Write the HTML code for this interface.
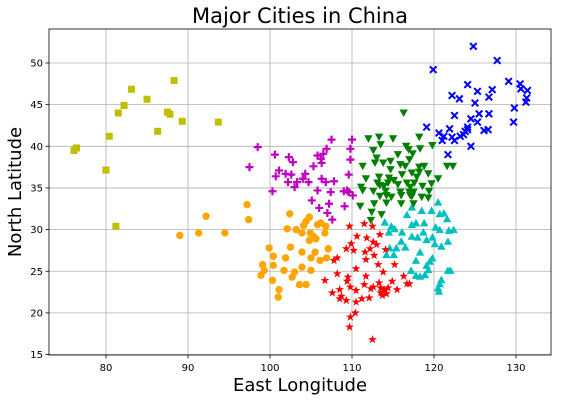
<!DOCTYPE html>
<html><head><meta charset="utf-8"><style>
body{margin:0;background:#fff;}
svg{display:block;font-family:"DejaVu Sans","Liberation Sans",sans-serif;}
</style></head><body>
<svg id="chart" width="561" height="401" viewBox="0 0 561 401" xmlns="http://www.w3.org/2000/svg">
<rect width="561" height="401" fill="#fff"/>
<g id="grid"></g>
<g id="marks"></g>
<g id="axes"></g>
<text x="300" y="23" text-anchor="middle" font-size="21">Major Cities in China</text>
<text x="300" y="391" text-anchor="middle" font-size="18">East Longitude</text>
<text transform="translate(21,192) rotate(-90)" text-anchor="middle" font-size="18">North Latitude</text>
</svg>
<script>
const xTicks=[80,90,100,110,120,130];
const yTicks=[15,20,25,30,35,40,45,50];
const yellowLon=[88.3,83.1,85.0,82.2,81.5,87.5,87.8,89.3,93.7,86.3,80.4,76.4,76.1,80.0,81.2];
const yellowLat=[47.9,46.85,45.65,44.9,44.0,44.1,43.85,43.0,42.9,41.8,41.2,39.8,39.5,37.15,30.4];
const magentaLon=[98.5,97.5,100.6,102.3,102.8,101.1,100.7,101.9,102.6,102.2,103.3,103.0,100.3,107.5,110.0,106.9,109.8,105.8,106.5,106.2,106.3,109.8,105.3,104.3,104.0,109.6,106.3,104.7,106.8,107.8,105.8,107.4,109.0,109.4,109.6,110.1,105.1,107.2,106.0,109.1,107.0,107.6];
const magentaLat=[39.9,37.5,39.0,38.7,38.1,37.1,36.4,36.7,36.6,35.7,35.7,35.1,34.6,40.8,40.8,39.7,39.7,38.9,39.1,38.5,38.0,38.4,37.6,36.7,36.1,36.6,36.1,35.7,35.7,35.8,34.7,34.5,34.6,34.7,34.5,34.1,33.5,33.1,32.6,32.8,32.0,31.2];
const greenLon=[116.3,112.0,113.3,115.0,118.2,113.5,116.6,119.8,112.6,118.3,115.6,116.9,117.4,113.0,114.7,117.0,112.8,113.8,111.3,115.9,116.5,118.2,118.8,121.6,122.3,114.7,117.3,118.2,119.3,111.7,113.3,114.5,116.1,117.9,120.5,113.1,114.4,115.1,115.6,116.7,117.6,119.7,111.1,113.4,113.9,117.1,118.6,111.3,112.6,114.1,115.9,117.5,119.4,113.4,114.8,116.0,117.1,118.5,117.0,119.3,111.0,112.7,114.2,116.0,117.5,112.4,113.6,112.3,114.2,117.3];
const greenLat=[44.0,40.9,41.1,40.9,41.1,40.2,40.0,40.1,39.5,39.7,39.0,39.6,39.1,38.6,38.2,38.4,38.0,38.0,37.6,37.8,37.6,37.5,37.6,37.6,37.6,37.2,36.8,36.9,36.7,36.1,36.3,36.2,36.6,36.3,36.1,35.6,35.6,35.9,35.4,35.6,35.6,35.5,35.1,35.3,35.2,35.1,35.2,34.7,34.6,34.6,34.5,34.5,34.6,34.0,33.9,34.1,34.1,33.9,34.5,33.8,32.8,33.1,33.2,33.1,33.1,32.1,31.8,31.1,34.1,34.0];
const blueLon=[124.8,127.7,119.9,124.1,129.1,130.5,130.6,131.4,125.3,127.1,122.2,123.1,126.7,125.0,131.3,131.2,129.8,122.5,125.5,126.7,124.5,125.3,129.7,119.1,121.9,124.1,120.6,121.2,121.0,122.2,122.5,123.2,123.6,123.8,124.1,126.1,126.6,124.5,121.7];
const blueLat=[52.0,50.3,49.2,47.4,47.8,47.5,46.9,46.7,46.6,46.8,46.1,45.7,45.9,45.2,45.8,45.3,44.6,43.7,43.9,43.9,43.3,42.9,42.9,42.3,42.1,42.3,41.6,41.2,40.7,41.1,40.7,41.2,41.4,41.8,42.0,41.9,42.0,40.0,39.0];
const cyanLon=[120.5,117.3,116.7,118.5,119.7,120.7,121.2,121.6,117.8,118.8,117.3,114.0,114.8,115.2,114.5,116.1,118.7,120.2,120.7,121.8,122.4,117.3,118.0,119.1,119.8,116.0,120.1,120.9,121.7,116.5,114.6,115.4,114.2,115.1,118.3,117.8,119.8,119.5,119.1,119.3,117.2,117.8,118.3,118.9,121.7,122.0,120.9,120.7,120.5,120.6];
const cyanLat=[33.3,32.7,31.8,32.3,32.3,31.9,32.0,31.3,30.8,30.8,30.6,30.9,30.4,30.1,29.7,29.7,29.7,30.3,30.0,29.9,30.0,29.2,29.1,28.8,29.1,28.6,28.3,28.0,28.6,27.9,27.8,27.8,27.0,27.0,27.3,26.3,26.6,26.2,25.7,25.2,25.1,24.5,24.4,24.6,25.1,25.1,24.0,23.5,23.0,22.6];
const redLon=[109.7,111.5,112.5,110.6,111.8,113.4,112.6,109.9,113.0,114.1,109.3,110.2,112.2,111.6,112.7,108.2,107.8,111.7,113.2,115.2,110.5,113.8,108.2,106.7,109.5,109.4,111.7,116.3,114.9,113.3,116.7,117.0,111.5,109.8,112.3,112.6,113.5,113.9,114.4,115.5,108.5,110.5,113.5,114.2,113.7,107.6,108.7,108.5,109.3,111.2,112.1,110.5,110.4,109.8,109.7,112.5];
const redLat=[30.4,30.7,30.4,29.2,29.0,29.4,28.5,28.3,28.2,27.6,27.7,27.5,27.7,27.3,26.9,26.6,26.3,26.4,25.8,25.8,25.3,24.9,24.7,23.9,24.3,23.8,24.4,24.4,23.8,23.6,23.5,23.5,23.4,23.1,22.9,23.1,23.0,22.8,23.0,22.8,22.8,22.7,22.4,22.3,22.1,22.4,22.0,21.7,21.5,21.7,21.8,21.3,20.0,19.5,18.3,16.8];
const orangeLon=[94.5,97.2,97.4,102.4,104.8,104.4,104.1,102.1,103.2,103.9,104.9,105.8,106.2,106.8,106.7,105.3,104.8,105.6,99.9,102.5,100.4,103.9,105.5,107.1,101.9,105.0,106.1,106.9,99.1,100.4,103.9,99.3,98.9,101.7,103.0,102.7,105.0,100.3,103.6,104.4,101.1,101.0,89.0,91.3,92.2];
const orangeLat=[29.6,33.0,31.2,31.9,31.5,31.0,30.5,30.1,30.0,29.6,29.6,30.6,30.8,30.4,29.6,29.2,28.7,28.9,27.8,27.9,26.8,27.3,27.3,27.7,26.6,26.6,26.3,26.6,25.8,25.7,25.5,25.1,24.5,25.1,24.9,24.3,25.1,23.9,23.4,23.4,22.8,21.9,29.3,29.6,31.6];

const NS="http://www.w3.org/2000/svg";
const X0=49,X1=551,Y0=29,Y1=355;
function xs(v){return 106+(v-80)*8.2;}
function ys(v){return 63+(50-v)*8.33;}
function mk(tag,attrs,parent){const e=document.createElementNS(NS,tag);for(const k in attrs)e.setAttribute(k,attrs[k]);parent.appendChild(e);return e;}
const grid=document.getElementById('grid'),axes=document.getElementById('axes'),marks=document.getElementById('marks');
xTicks.forEach(t=>{
  const x=xs(t);
  const g=mk('line',{x1:x,x2:x,y1:Y0,y2:Y1,stroke:'#b0b0b0','stroke-width':0.8},grid);
  
  
  mk('line',{x1:x,x2:x,y1:Y1,y2:Y1+3.5,stroke:'#000','stroke-width':0.8},axes);
  const l=mk('text',{x:x,y:Y1+16,'text-anchor':'middle','font-size':10},axes);
  l.textContent=t;
  
  
});
yTicks.forEach(t=>{
  const y=ys(t);
  const g=mk('line',{x1:X0,x2:X1,y1:y,y2:y,stroke:'#b0b0b0','stroke-width':0.8},grid);
  
  
  mk('line',{x1:X0-3.5,x2:X0,y1:y,y2:y,stroke:'#000','stroke-width':0.8},axes);
  const l=mk('text',{x:X0-6,y:y+3.5,'text-anchor':'end','font-size':10},axes);
  l.textContent=t;
  
  
});
const fr=mk('rect',{x:X0,y:Y0,width:X1-X0,height:Y1-Y0,fill:'none',stroke:'#000','stroke-width':0.8},axes);



function star(cx,cy,r){let p=[];for(let i=0;i<10;i++){const a=-Math.PI/2+i*Math.PI/5;const rr=i%2?r*0.4:r;p.push((cx+rr*Math.cos(a)).toFixed(1)+','+(cy+rr*Math.sin(a)).toFixed(1));}return p.join(' ');}
function drawSeries(lons,lats,color,shape,name){
  const g=mk('g',{},marks);
  
  
  lons.forEach((lo,i)=>{
    const x=xs(lo),y=ys(lats[i]);let e;
    if(shape==='square')e=mk('rect',{x:x-3.5,y:y-3.5,width:7,height:7,fill:color},g);
    else if(shape==='circle')e=mk('circle',{cx:x,cy:y,r:3.7,fill:color},g);
    else if(shape==='tri-down')e=mk('polygon',{points:`${x-4.2},${y-3.5} ${x+4.2},${y-3.5} ${x},${y+4}`,fill:color},g);
    else if(shape==='tri-up')e=mk('polygon',{points:`${x-4.2},${y+3.5} ${x+4.2},${y+3.5} ${x},${y-4}`,fill:color},g);
    else if(shape==='star')e=mk('polygon',{points:star(x,y,4.6),fill:color},g);
    else if(shape==='plus')e=mk('path',{d:`M${x-4},${y}H${x+4}M${x},${y-4}V${y+4}`,stroke:color,'stroke-width':2.2},g);
    else e=mk('path',{d:`M${x-3.3},${y-3.3}L${x+3.3},${y+3.3}M${x-3.3},${y+3.3}L${x+3.3},${y-3.3}`,stroke:color,'stroke-width':2},g);
    
    
  });
}
drawSeries(yellowLon,yellowLat,'#bfbf00','square','northwest');
drawSeries(magentaLon,magentaLat,'#bf00bf','plus','loess');
drawSeries(orangeLon,orangeLat,'#ffa500','circle','southwest');
drawSeries(cyanLon,cyanLat,'#00bfbf','tri-up','east');
drawSeries(greenLon,greenLat,'#008000','tri-down','north');
drawSeries(redLon,redLat,'#ff0000','star','south');
drawSeries(blueLon,blueLat,'#0000ff','x','northeast');
</script>
</body></html>
